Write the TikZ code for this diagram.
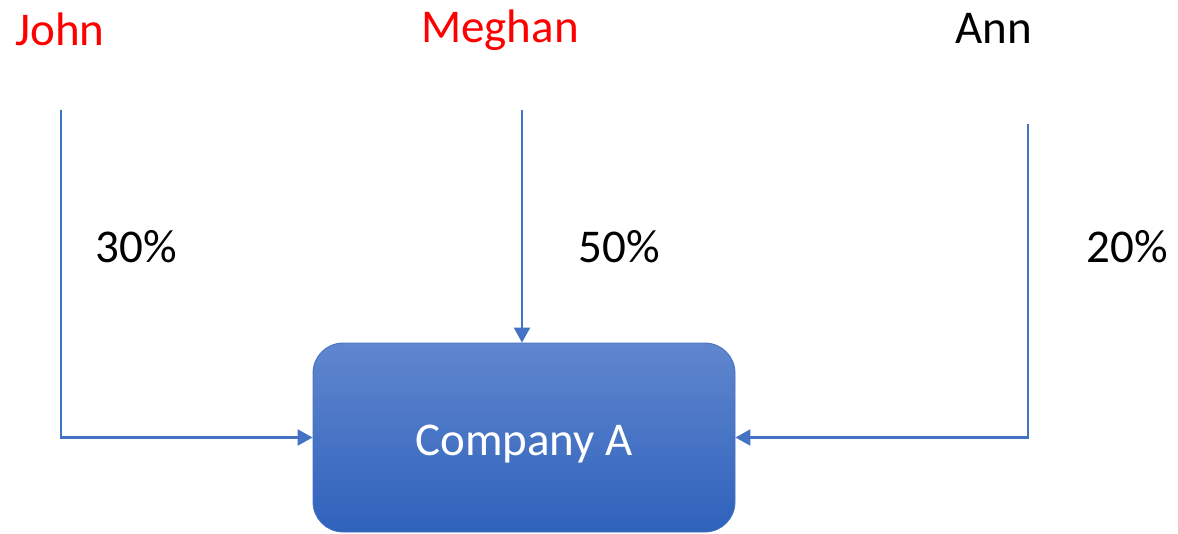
\documentclass[tikz,border=0pt]{standalone}
\usepackage{fontspec}
\setmainfont{Carlito}
\usetikzlibrary{arrows.meta}
\definecolor{linkblue}{HTML}{4472C4}
\definecolor{boxtop}{RGB}{96,134,206}
\definecolor{boxbot}{RGB}{47,98,188}
\begin{document}
\begin{tikzpicture}[x=1pt,y=-1pt,
  personlabel/.style={font=\fontsize{47}{50}\selectfont, anchor=base, inner sep=0pt},
  pct/.style={font=\fontsize{47}{50}\selectfont, anchor=base, inner sep=0pt, text=black},
  link/.style={draw=linkblue, line width=2.2pt, -{Triangle[length=15pt,width=16pt]}},
  company/.style={rectangle, rounded corners=30pt, draw=linkblue, line width=0.8pt,
    top color=boxtop, bottom color=boxbot, text=white,
    minimum width=422pt, minimum height=189pt, inner sep=0pt,
    text height=35pt, text depth=0pt,
    font=\fontsize{47}{50}\selectfont}]
\useasboundingbox (0,0) rectangle (1178,533);
\node[company] (box) at (524,437.5) {Company A};
\node[personlabel, text=red] (john) at (60,45) {John};
\node[personlabel, text=red] (meghan) at (500,42) {Meghan};
\node[personlabel, text=black] (ann) at (994,43) {Ann};
\node[pct] (p30) at (136,262) {30\%};
\node[pct] (p50) at (619,262) {50\%};
\node[pct] (p20) at (1127,262) {20\%};
\coordinate (j) at (61,110);
\coordinate (m) at (522,110);
\coordinate (a) at (1028,124);
\draw[link] (j) |- (box.west);
\draw[link] (m) -- (m |- box.north);
\draw[link] (a) |- (box.east);
\end{tikzpicture}
\end{document}
